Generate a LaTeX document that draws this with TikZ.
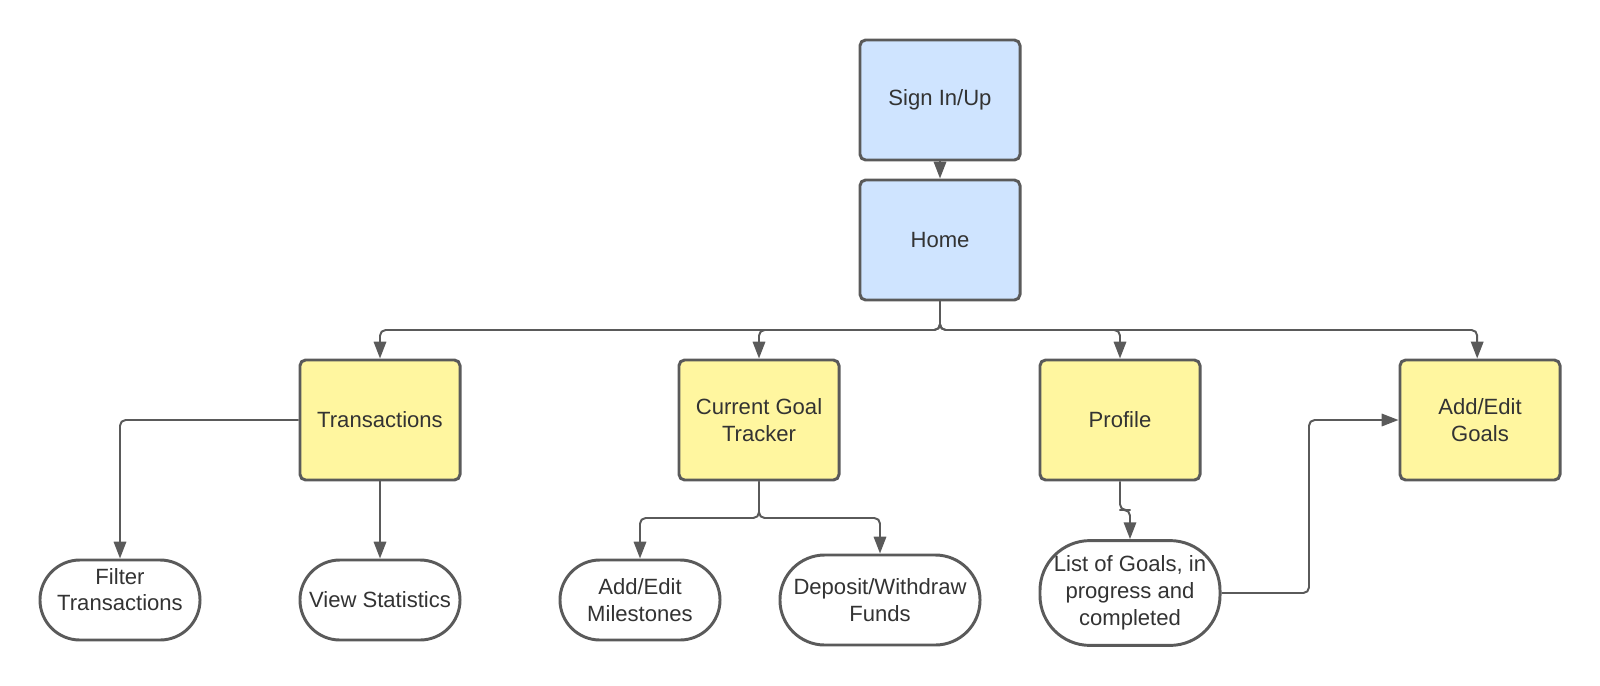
\documentclass[tikz,border=0pt]{standalone}
\usepackage{fontspec}
\setmainfont{Liberation Sans}
\usetikzlibrary{arrows.meta}
\definecolor{linegray}{HTML}{5A5A5A}
\definecolor{textgray}{HTML}{333333}
\definecolor{pageblue}{HTML}{CFE4FF}
\definecolor{pageyellow}{HTML}{FFF69F}
\tikzset{
    screen/.style={draw=linegray, line width=2.1pt, rounded corners=4pt,
                   minimum width=4cm, minimum height=3cm, align=center,
                   text=textgray},
    entry/.style={screen, fill=pageblue},
    section/.style={screen, fill=pageyellow},
    action/.style={draw=linegray, line width=2.1pt, fill=white, align=center,
                   text=textgray, minimum width=4cm, minimum height=2cm,
                   rounded corners=1cm, inner sep=1pt},
    conn/.style={draw=linegray, line width=1.4pt, rounded corners=4pt,
                 -{Triangle[length=0.42cm, width=0.31cm]}}
}

\begin{document}
\begin{tikzpicture}
  [
    x                       = 0.025cm,
    y                       = -0.025cm,
    every node/.style       = {font=\fontsize{15.7}{19}\selectfont},
  ]
  \useasboundingbox (0,0) rectangle (1600,685);

  % top of the flow
  \node [entry] (signin) at (940,100) {Sign In/Up};
  \node [entry] (home) at (940,240) {Home};

  % main sections
  \node [section] (trans) at (380,420) {Transactions};
  \node [section] (tracker) at (759,420) {Current Goal\\Tracker};
  \node [section] (profile) at (1120,420) {Profile};
  \node [section] (goals) at (1480,420) {Add/Edit\\Goals};

  % actions
  \node [action] (filter) at (120,600) {Filter\\Transactions\\[-4pt]};
  \node [action] (stats) at (380,600) {View Statistics};
  \node [action] (miles) at (640,600) {Add/Edit\\Milestones};
  \node [action, minimum width=5cm, minimum height=2.25cm, rounded corners=1.12cm]
    (funds) at (880,600) {Deposit/Withdraw\\Funds};
  \node [action, minimum width=4.5cm, minimum height=2.62cm, rounded corners=1.25cm,
    inner sep=0pt] (list) at (1130,593) {List of Goals, in\\progress and\\completed};

  \coordinate (bus) at (940,330);
  \coordinate (split) at (759,518);
  \coordinate (jog) at (1125,510);
  \coordinate (riser) at (1309,510);

  \draw [conn] (signin) -- (home);
  \draw [conn] (home.south) -- (bus) -| (trans.north);
  \draw [conn] (home.south) -- (bus) -| (tracker.north);
  \draw [conn] (home.south) -- (bus) -| (profile.north);
  \draw [conn] (home.south) -- (bus) -| ([xshift=-2]goals.north);
  \draw [conn] (trans.west) -| (filter.north);
  \draw [conn] (trans.south) -- (stats.north);
  \draw [conn] (tracker.south) -- (split) -| (miles.north);
  \draw [conn] (tracker.south) -- (split) -| (funds.north);
  \draw [conn] (profile.south) |- (jog) -| (list.north);
  \draw [conn] (list.east) -| (riser) |- (goals.west);
\end{tikzpicture}
\end{document}
